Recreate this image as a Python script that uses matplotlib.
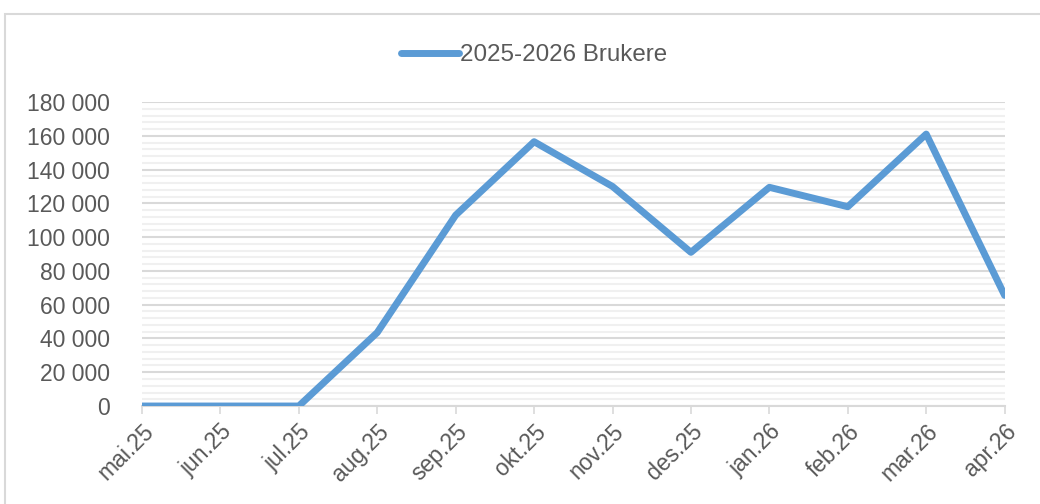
import matplotlib.pyplot as plt
from matplotlib.patches import Rectangle
from matplotlib.ticker import MultipleLocator, FuncFormatter

months = ['mai.25', 'jun.25', 'jul.25', 'aug.25', 'sep.25', 'okt.25',
          'nov.25', 'des.25', 'jan.26', 'feb.26', 'mar.26', 'apr.26']
brukere = [0, 0, 0, 43500, 113000, 156500, 130000, 91000, 129500, 118000, 161000, 65500]
series_name = '2025-2026 Brukere'

plt.rcParams['font.family'] = ['Liberation Sans', 'DejaVu Sans']

fig = plt.figure(figsize=(10.4, 5.04), dpi=100)
ax = fig.add_axes([0.1365, 0.1944, 0.966 - 0.1365, 0.7976 - 0.1944])

# border around the chart area
fig.patches.append(Rectangle((5 / 1040, -0.1), 1.2, 0.1 + 1 - 14 / 504,
                             transform=fig.transFigure, fill=False,
                             edgecolor='#d9d9d9', linewidth=1.5))

x = list(range(len(months)))
ax.plot(x, brukere, color='#5b9bd5', linewidth=5, solid_joinstyle='round',
        solid_capstyle='round', label=series_name, zorder=3)

ax.set_xlim(0, len(months) - 1)
ax.set_ylim(0, 180000)
ax.yaxis.set_major_locator(MultipleLocator(20000))
ax.yaxis.set_minor_locator(MultipleLocator(4000))
ax.yaxis.set_major_formatter(FuncFormatter(lambda v, p: f'{int(v):,}'.replace(',', ' ')))
ax.grid(axis='y', which='major', color='#d9d9d9', linewidth=1.5, zorder=0)
ax.grid(axis='y', which='minor', color='#f0f0f0', linewidth=1.5, zorder=0)
ax.set_axisbelow(True)

ax.set_xticks(x)
ax.set_xticklabels(months, rotation=45, ha='right', rotation_mode='anchor')

for s in ['top', 'right', 'left']:
    ax.spines[s].set_visible(False)
ax.spines['bottom'].set_color('#d9d9d9')
ax.spines['bottom'].set_linewidth(1.5)

ax.tick_params(axis='y', which='both', length=0, labelsize=16.5, labelcolor='#595959', pad=23)
ax.tick_params(axis='x', length=6, width=1.2, color='#d9d9d9', labelsize=16.5,
               labelcolor='#595959', pad=4)

leg = ax.legend(loc='center', bbox_to_anchor=(534 / 1040, 1 - 55 / 504), bbox_transform=fig.transFigure,
                frameon=False, fontsize=17.4, handlelength=2.4, handletextpad=0.05)
for t in leg.get_texts():
    t.set_color('#595959')

fig.savefig('out.png', dpi=100)
